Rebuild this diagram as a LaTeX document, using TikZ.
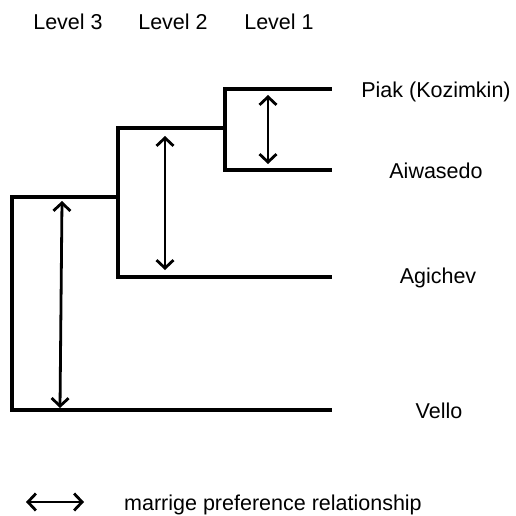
\documentclass[tikz,border=0pt]{standalone}
\usepackage{fontspec}
\setmainfont{Liberation Sans}
\usetikzlibrary{arrows.meta}
\begin{document}
\begin{tikzpicture}[x=1pt,y=-1pt,
  tree/.style={line width=4.3pt,line cap=rect,line join=miter},
  rel/.style={line width=2.8pt,{Straight Barb[length=8pt,width=17pt,line width=2.8pt]}-{Straight Barb[length=8pt,width=17pt,line width=2.8pt]}},
  lbl/.style={font=\fontsize{21.5}{25}\selectfont,inner sep=0pt}]
\useasboundingbox (0,0) rectangle (516,516);
% top labels
\node[lbl] (l3) at (68,22) {Level 3};
\node[lbl] (l2) at (173,22) {Level 2};
\node[lbl] (l1) at (279,22) {Level 1};
% leaf end points
\coordinate (p0) at (225,89);  \coordinate (p1) at (330,89);
\coordinate (a0) at (225,170); \coordinate (a1) at (330,170);
\coordinate (g0) at (118,277); \coordinate (g1) at (330,277);
\coordinate (v0) at (12,410);  \coordinate (v1) at (330,410);
\coordinate (j1) at (225,128); \coordinate (j2) at (118,197);
% tree
\draw[tree] (p1) -- (p0) -- (a0) -- (a1);
\draw[tree] (j1) -- (118,128) -- (g0) -- (g1);
\draw[tree] (j2) -- (12,197) -- (v0) -- (v1);
% names
\node[lbl] (piak) at (436,92) {Piak (Kozimkin)};
\node[lbl] (aiw) at (436,171) {Aiwasedo};
\node[lbl] (agi) at (438,278) {Agichev};
\node[lbl] (vel) at (439,411) {Vello};
% relations
\coordinate (r1a) at (268,95);  \coordinate (r1b) at (268,164);
\coordinate (r2a) at (165,136); \coordinate (r2b) at (165,270);
\coordinate (r3a) at (62,201);  \coordinate (r3b) at (60,408);
\draw[rel] (r1a) -- (r1b);
\draw[rel] (r2a) -- (r2b);
\draw[rel] (r3a) -- (r3b);
% legend
\coordinate (la) at (26,502); \coordinate (lb) at (84,502);
\draw[rel] (la) -- (lb);
\node[lbl,anchor=base west] (leg) at (124,510) {marrige preference relationship};
\end{tikzpicture}
\end{document}
